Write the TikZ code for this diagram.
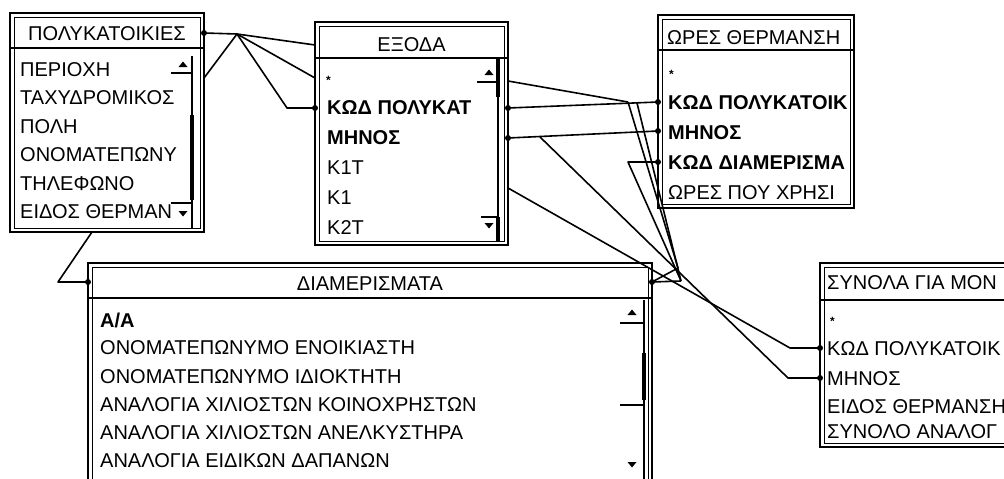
\documentclass[tikz,border=0pt]{standalone}
\usepackage{fontspec}
\setmainfont{Liberation Sans}
\newcommand\fsz{\fontsize{20}{24}\selectfont}
\newcommand\tabdeco[2]{%
  \draw[innerframe] ([shift={(4,4)}]#1.north west) rectangle ([shift={(-4,-4)}]#1.south east);
  \draw[sepline] (#1.west |- 0,#2) -- (#1.east |- 0,#2);
}
\tikzset{
  tbl/.style={draw, line width=1.8pt, inner sep=0pt, outer sep=0pt, fill=white},
  innerframe/.style={line width=0.8pt},
  sepline/.style={line width=1.8pt},
  fld/.style={anchor=west, inner sep=0pt, text height=14pt, text depth=0pt, font=\fsz},
  keyfld/.style={fld, font=\fsz\bfseries},
  ttl/.style={inner sep=0pt, text height=14pt, text depth=0pt, font=\fsz},
  conn/.style={line width=1.6pt, line join=round},
  sbar/.style={line width=2pt},
  sthick/.style={line width=3.5pt},
}
\begin{document}
\begin{tikzpicture}[x=1pt,y=-1pt]
\useasboundingbox (0,0) rectangle (1004,479);
\clip (0,0) rectangle (1004,479);
\fill[white] (0,0) rectangle (1004,479);

% ---------- tables ----------
\node[tbl, minimum width=194, minimum height=219] (pol) at (107,122.5) {};
\node[tbl, minimum width=193, minimum height=223] (exo) at (411.5,133.5) {};
\node[tbl, minimum width=196, minimum height=193] (ores) at (756,111.5) {};
\node[tbl, minimum width=564, minimum height=240] (diam) at (370,383) {};
\node[tbl, minimum width=220, minimum height=184] (syn) at (930,355) {};

\tabdeco{pol}{48}
\tabdeco{exo}{58}
\tabdeco{ores}{50}
\tabdeco{diam}{298}
\tabdeco{syn}{300}

% ---------- ΠΟΛΥΚΑΤΟΙΚΙΕΣ ----------
\node[ttl] (polt) at (107,33) {ΠΟΛΥΚΑΤΟΙΚΙΕΣ};
\begin{scope}
\clip (pol.west |- 0,50) rectangle (190,228);
\node[fld] (pol1) at (20,69) {ΠΕΡΙΟΧΗ};
\node[fld] (pol2) at (20,97.5) {ΤΑΧΥΔΡΟΜΙΚΟΣ};
\node[fld] (pol3) at (20,126) {ΠΟΛΗ};
\node[fld] (pol4) at (20,154.5) {ΟΝΟΜΑΤΕΠΩΝΥ};
\node[fld] (pol5) at (20,183) {ΤΗΛΕΦΩΝΟ};
\node[fld] (pol6) at (20,211.5) {ΕΙΔΟΣ ΘΕΡΜΑΝ};
\end{scope}
\draw[sbar] (192,56) -- (192,229);
\draw[sthick] (192,115) -- (192,200);
\fill (178.5,67) -- (187.5,67) -- (183,61.5) -- cycle;
\draw[sbar] (171,72.5) -- (192,72.5);
\fill (178.5,211) -- (187.5,211) -- (183,216.5) -- cycle;
\draw[sbar] (171,202.5) -- (192,202.5);

% ---------- ΕΞΟΔΑ ----------
\node[ttl] (exot) at (411.5,44) {ΕΞΟΔΑ};
\begin{scope}
\clip (exo.west |- 0,60) rectangle (496,241);
\node[fld, font=\fontsize{12}{14}\bfseries] (exo0) at (326,77) {*};
\node[keyfld] (exo1) at (327,107) {ΚΩΔ ΠΟΛΥΚΑΤ};
\node[keyfld] (exo2) at (327,137) {ΜΗΝΟΣ};
\node[fld] (exo3) at (327,167) {K1T};
\node[fld] (exo4) at (327,197) {K1};
\node[fld] (exo5) at (327,227) {K2T};
\end{scope}
\draw[sbar] (498,59) -- (498,241);
\draw[sthick] (498,59) -- (498,97);
\draw[sthick] (498,217) -- (498,241);
\fill (484.5,75) -- (493.5,75) -- (489,69.5) -- cycle;
\draw[sbar] (477,82) -- (498,82);
\fill (484.5,223) -- (493.5,223) -- (489,228.5) -- cycle;
\draw[sbar] (481,217) -- (498,217);

% ---------- ΩΡΕΣ ΘΕΡΜΑΝΣΗ ----------
\begin{scope}
\clip (ores.west |- 0,19) rectangle (850,204);
\node[fld] (orest) at (667,37) {ΩΡΕΣ ΘΕΡΜΑΝΣΗ};
\node[fld, font=\fontsize{12}{14}\bfseries] (ores0) at (669,71) {*};
\node[keyfld] (ores1) at (668,102) {ΚΩΔ ΠΟΛΥΚΑΤΟΙΚ};
\node[keyfld] (ores2) at (668,132) {ΜΗΝΟΣ};
\node[keyfld] (ores3) at (668,162) {ΚΩΔ ΔΙΑΜΕΡΙΣΜΑ};
\node[fld] (ores4) at (668,192) {ΩΡΕΣ ΠΟΥ ΧΡΗΣΙ};
\end{scope}

% ---------- ΔΙΑΜΕΡΙΣΜΑΤΑ ----------
\node[ttl] (diamt) at (370,283) {ΔΙΑΜΕΡΙΣΜΑΤΑ};
\begin{scope}
\clip (diam.west |- 0,300) rectangle (640,479);
\node[keyfld] (diam1) at (100,320) {Α/Α};
\node[fld] (diam2) at (100,347) {ΟΝΟΜΑΤΕΠΩΝΥΜΟ ΕΝΟΙΚΙΑΣΤΗ};
\node[fld] (diam3) at (100,376) {ΟΝΟΜΑΤΕΠΩΝΥΜΟ ΙΔΙΟΚΤΗΤΗ};
\node[fld] (diam4) at (100,404) {ΑΝΑΛΟΓΙΑ ΧΙΛΙΟΣΤΩΝ ΚΟΙΝΟΧΡΗΣΤΩΝ};
\node[fld] (diam5) at (100,432) {ΑΝΑΛΟΓΙΑ ΧΙΛΙΟΣΤΩΝ ΑΝΕΛΚΥΣΤΗΡΑ};
\node[fld] (diam6) at (100,460) {ΑΝΑΛΟΓΙΑ ΕΙΔΙΚΩΝ ΔΑΠΑΝΩΝ};
\end{scope}
\draw[sbar] (644,300) -- (644,479);
\draw[sthick] (644,353) -- (644,400);
\fill (627.5,315) -- (636.5,315) -- (632,309.5) -- cycle;
\draw[sbar] (620,323) -- (644,323);
\draw[sbar] (620,405) -- (644,405);
\fill (627.5,462) -- (636.5,462) -- (632,467.5) -- cycle;

% ---------- ΣΥΝΟΛΑ ΓΙΑ ΜΗΝΑ ----------
\begin{scope}
\clip (syn.west |- 0,267) rectangle (1004,443);
\node[fld] (synt) at (827,282) {ΣΥΝΟΛΑ ΓΙΑ ΜΟΝ};
\node[fld, font=\fontsize{12}{14}\bfseries] (syn0) at (830,318) {*};
\node[fld] (syn1) at (827,348) {ΚΩΔ ΠΟΛΥΚΑΤΟΙΚ};
\node[fld] (syn2) at (827,378) {ΜΗΝΟΣ};
\node[fld] (syn3) at (827,406) {ΕΙΔΟΣ ΘΕΡΜΑΝΣΗ};
\node[fld] (syn4) at (827,431) {ΣΥΝΟΛΟ ΑΝΑΛΟΓ};
\end{scope}

% ---------- junction coordinates ----------
\coordinate (j1) at (237,34);
\coordinate (j2) at (287,108);
\coordinate (j3) at (58,282);
\coordinate (j4) at (628,102);
\coordinate (j4b) at (637,103);
\coordinate (j5) at (540,137);
\coordinate (j6) at (788,378);
\coordinate (j7) at (790,348);
\coordinate (j8) at (678,268);
\coordinate (j9) at (681,281);
\coordinate (j10) at (628,162);

% ---------- connectors ----------
\draw[conn] (pol.east |- 0,33) -- (j1);
\draw[conn] (pol.east |- 0,78) -- (j1);
\draw[conn] (j1) -- (exo.west |- 0,45);
\draw[conn] (j1) -- (exo.west |- 0,78);
\draw[conn] (j1) -- (j2) -- (exo.west |- 0,108);
\draw[conn] (92,0 |- pol.south) -- (j3) -- (diam.west |- 0,282);

\draw[conn] (exo.east |- 0,81) -- (j4);
\draw[conn] (exo.east |- 0,108) -- (ores.west |- 0,102);
\draw[conn] (exo.east |- 0,138) -- (ores.west |- 0,131);
\draw[conn] (j5) -- (j6) -- (syn.west |- 0,378);
\draw[conn] (exo.east |- 0,188) -- (j7) -- (syn.west |- 0,348);
\draw[conn] (j4) -- (j8);
\draw[conn] (j4b) -- (j9);
\draw[conn] (ores.west |- 0,162) -- (j10) -- (j9);
\draw[conn] (diam.east |- 0,282) -- (j9);
\draw[conn] (diam.east |- 0,282) -- (j8);

% ---------- end markers ----------
\foreach \p in {(pol.east |- 0,33), (exo.west |- 0,108), (exo.east |- 0,108), (exo.east |- 0,138),
  (ores.west |- 0,102), (ores.west |- 0,131), (ores.west |- 0,162),
  (syn.west |- 0,348), (syn.west |- 0,378), (diam.west |- 0,282), (diam.east |- 0,282)}
  \fill \p circle (3);
\end{tikzpicture}
\end{document}
